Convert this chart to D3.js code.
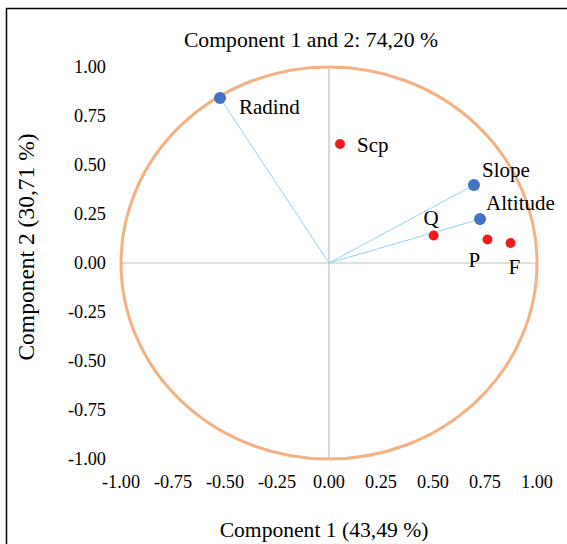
<!DOCTYPE html>
<html lang="en">
<head>
  <meta charset="UTF-8" />
  <title>Component 1 and 2</title>
  <script src="https://d3js.org/d3.v7.min.js"></script>
  <style>
    body { margin: 0; background: #fff; }
    text { font-family: "Liberation Serif", "Times New Roman", serif; fill: #000; }
  </style>
</head>
<body>
  <svg id="chart" width="567" height="544"></svg>
  <script>
    // loadings (variables) and supplementary points
    const variables = ["Radind", "Slope", "Altitude"];
    const varX = [-0.524, 0.697, 0.726];
    const varY = [0.842, 0.398, 0.224];

    const supps = ["Scp", "Q", "P", "F"];
    const suppX = [0.053, 0.503, 0.762, 0.873];
    const suppY = [0.607, 0.140, 0.120, 0.102];

    const ticks = [-1, -0.75, -0.5, -0.25, 0, 0.25, 0.5, 0.75, 1];

    const svg = d3.select("#chart");

    const x = d3.scaleLinear().domain([-1, 1]).range([121, 537]);
    const y = d3.scaleLinear().domain([-1, 1]).range([459, 67]);

    // outer frame
    svg.append("rect")
      .attr("x", 6.5).attr("y", 8.5)
      .attr("width", 620).attr("height", 600)
      .attr("fill", "none")
      .attr("stroke", "#000")
      .attr("stroke-width", 1.5);

    // title
    svg.append("text")
      .attr("x", 311).attr("y", 47)
      .attr("text-anchor", "middle")
      .style("font-size", "21.7px")
      .text("Component 1 and 2: 74,20 %");

    // axis lines through origin
    svg.append("line")
      .attr("x1", x(0)).attr("x2", x(0))
      .attr("y1", y(1)).attr("y2", y(-1))
      .attr("stroke", "#bfbfbf").attr("stroke-width", 1.2);
    svg.append("line")
      .attr("x1", x(-1)).attr("x2", x(1))
      .attr("y1", y(0)).attr("y2", y(0))
      .attr("stroke", "#bfbfbf").attr("stroke-width", 1.2);

    // tick labels (hyphen minus, like the original)
    const fmt = v => d3.format(".2f")(v).replace("\u2212", "-");

    svg.append("g").selectAll("text")
      .data(ticks)
      .join("text")
      .attr("x", 106)
      .attr("y", d => y(d))
      .attr("dy", "0.33em")
      .attr("text-anchor", "end")
      .style("font-size", "18.3px")
      .text(fmt);

    svg.append("g").selectAll("text")
      .data(ticks)
      .join("text")
      .attr("x", d => x(d))
      .attr("y", 488)
      .attr("text-anchor", "middle")
      .style("font-size", "18.3px")
      .text(fmt);

    // correlation circle
    svg.append("ellipse")
      .attr("cx", x(0)).attr("cy", y(0))
      .attr("rx", x(1) - x(0)).attr("ry", y(0) - y(1))
      .attr("fill", "none")
      .attr("stroke", "#f4b183")
      .attr("stroke-width", 3);

    // vectors
    svg.selectAll(".vec")
      .data(variables)
      .join("line")
      .attr("x1", x(0)).attr("y1", y(0))
      .attr("x2", (d, i) => x(varX[i]))
      .attr("y2", (d, i) => y(varY[i]))
      .attr("stroke", "#8fd4f2")
      .attr("stroke-width", 1);

    svg.selectAll(".var")
      .data(variables)
      .join("circle")
      .attr("cx", (d, i) => x(varX[i]))
      .attr("cy", (d, i) => y(varY[i]))
      .attr("r", 6)
      .attr("fill", "#4472c4");

    svg.selectAll(".sup")
      .data(supps)
      .join("circle")
      .attr("cx", (d, i) => x(suppX[i]))
      .attr("cy", (d, i) => y(suppY[i]))
      .attr("r", 5)
      .attr("fill", "#ee1c1c");

    // labels, offsets from each point
    const offsets = {
      Radind: [19, 16], Slope: [8, -8], Altitude: [6, -9],
      Scp: [17, 8], Q: [-10, -11], P: [-19, 28], F: [-2, 31]
    };
    const labels = variables.map((d, i) => [d, varX[i], varY[i]])
      .concat(supps.map((d, i) => [d, suppX[i], suppY[i]]));

    svg.selectAll(".lab")
      .data(labels)
      .join("text")
      .attr("x", d => x(d[1]) + offsets[d[0]][0])
      .attr("y", d => y(d[2]) + offsets[d[0]][1])
      .style("font-size", "21px")
      .text(d => d[0]);

    // axis titles
    svg.append("text")
      .attr("x", 324).attr("y", 537)
      .attr("text-anchor", "middle")
      .style("font-size", "21.6px")
      .text("Component 1 (43,49 %)");

    svg.append("text")
      .attr("transform", "translate(34,247) rotate(-90)")
      .attr("text-anchor", "middle")
      .style("font-size", "23.5px")
      .text("Component 2 (30,71 %)");
  </script>
</body>
</html>
